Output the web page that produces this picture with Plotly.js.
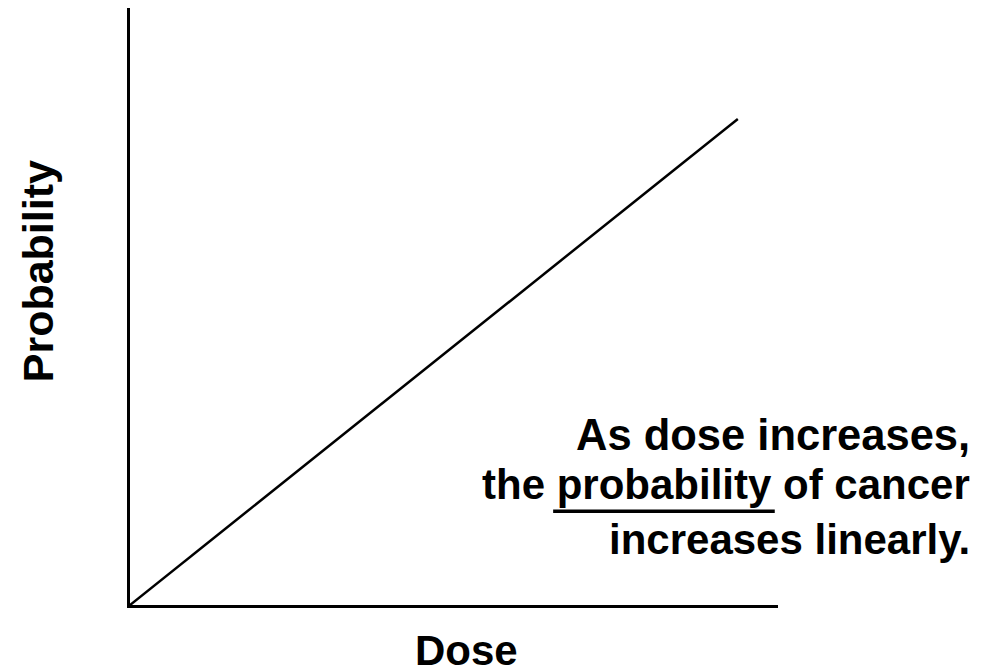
<!DOCTYPE html>
<html>
<head>
<meta charset="utf-8">
<script src="https://cdn.plot.ly/plotly-3.0.1.min.js"></script>
<style>html,body{margin:0;padding:0;background:#fff;}#chart{width:990px;height:669px;}</style>
</head>
<body>
<div id="chart"></div>
<script>
// Linear no-threshold model: probability rises linearly with dose
var dose = [0, 0.938];
var probability = [0, 0.814];
var xLabel = "Dose";
var yLabel = "Probability";
var noteLines = ["As dose increases,", "the probability of cancer", "increases linearly."];

var font = "Liberation Sans, Arial, sans-serif";

var trace = {
  x: dose, y: probability, type: "scatter", mode: "lines",
  line: {color: "#000", width: 2.5}, hoverinfo: "skip", showlegend: false
};

var notePos = [0.285, 0.202, 0.110];
var noteSize = [43.5, 42, 42];
var annotations = noteLines.map(function (t, i) {
  return {text: "<b>" + t + "</b>", xref: "paper", yref: "paper",
          x: 1.299, y: notePos[i], xanchor: "right", yanchor: "middle", align: "right",
          showarrow: false, font: {family: font, size: noteSize[i], color: "#000"}};
});
annotations.push(
  {text: "<b>" + xLabel + "</b>", xref: "paper", yref: "paper",
   x: 0.52, y: -0.0754, xanchor: "center", yanchor: "middle",
   showarrow: false, font: {family: font, size: 42, color: "#000"}},
  {text: "<b>" + yLabel + "</b>", xref: "paper", yref: "paper",
   x: -0.142, y: 0.559, xanchor: "center", yanchor: "middle", textangle: -90,
   showarrow: false, font: {family: font, size: 43, color: "#000"}}
);

var layout = {
  width: 990, height: 669,
  margin: {l: 130, r: 212, t: 8, b: 64},
  paper_bgcolor: "#fff", plot_bgcolor: "#fff",
  xaxis: {range: [0, 1], showline: true, linecolor: "#000", linewidth: 3,
          showgrid: false, zeroline: false, showticklabels: false, ticks: "", fixedrange: true},
  yaxis: {range: [0, 1], showline: true, linecolor: "#000", linewidth: 3,
          showgrid: false, zeroline: false, showticklabels: false, ticks: "", fixedrange: true},
  annotations: annotations,
  shapes: [
    // underline beneath "probability"
    {type: "line", xref: "paper", yref: "paper", x0: 0.653, x1: 0.995, y0: 0.157, y1: 0.157,
     line: {color: "#000", width: 3.5}}
  ]
};

Plotly.newPlot("chart", [trace], layout, {displayModeBar: false, staticPlot: true});
</script>
</body>
</html>
